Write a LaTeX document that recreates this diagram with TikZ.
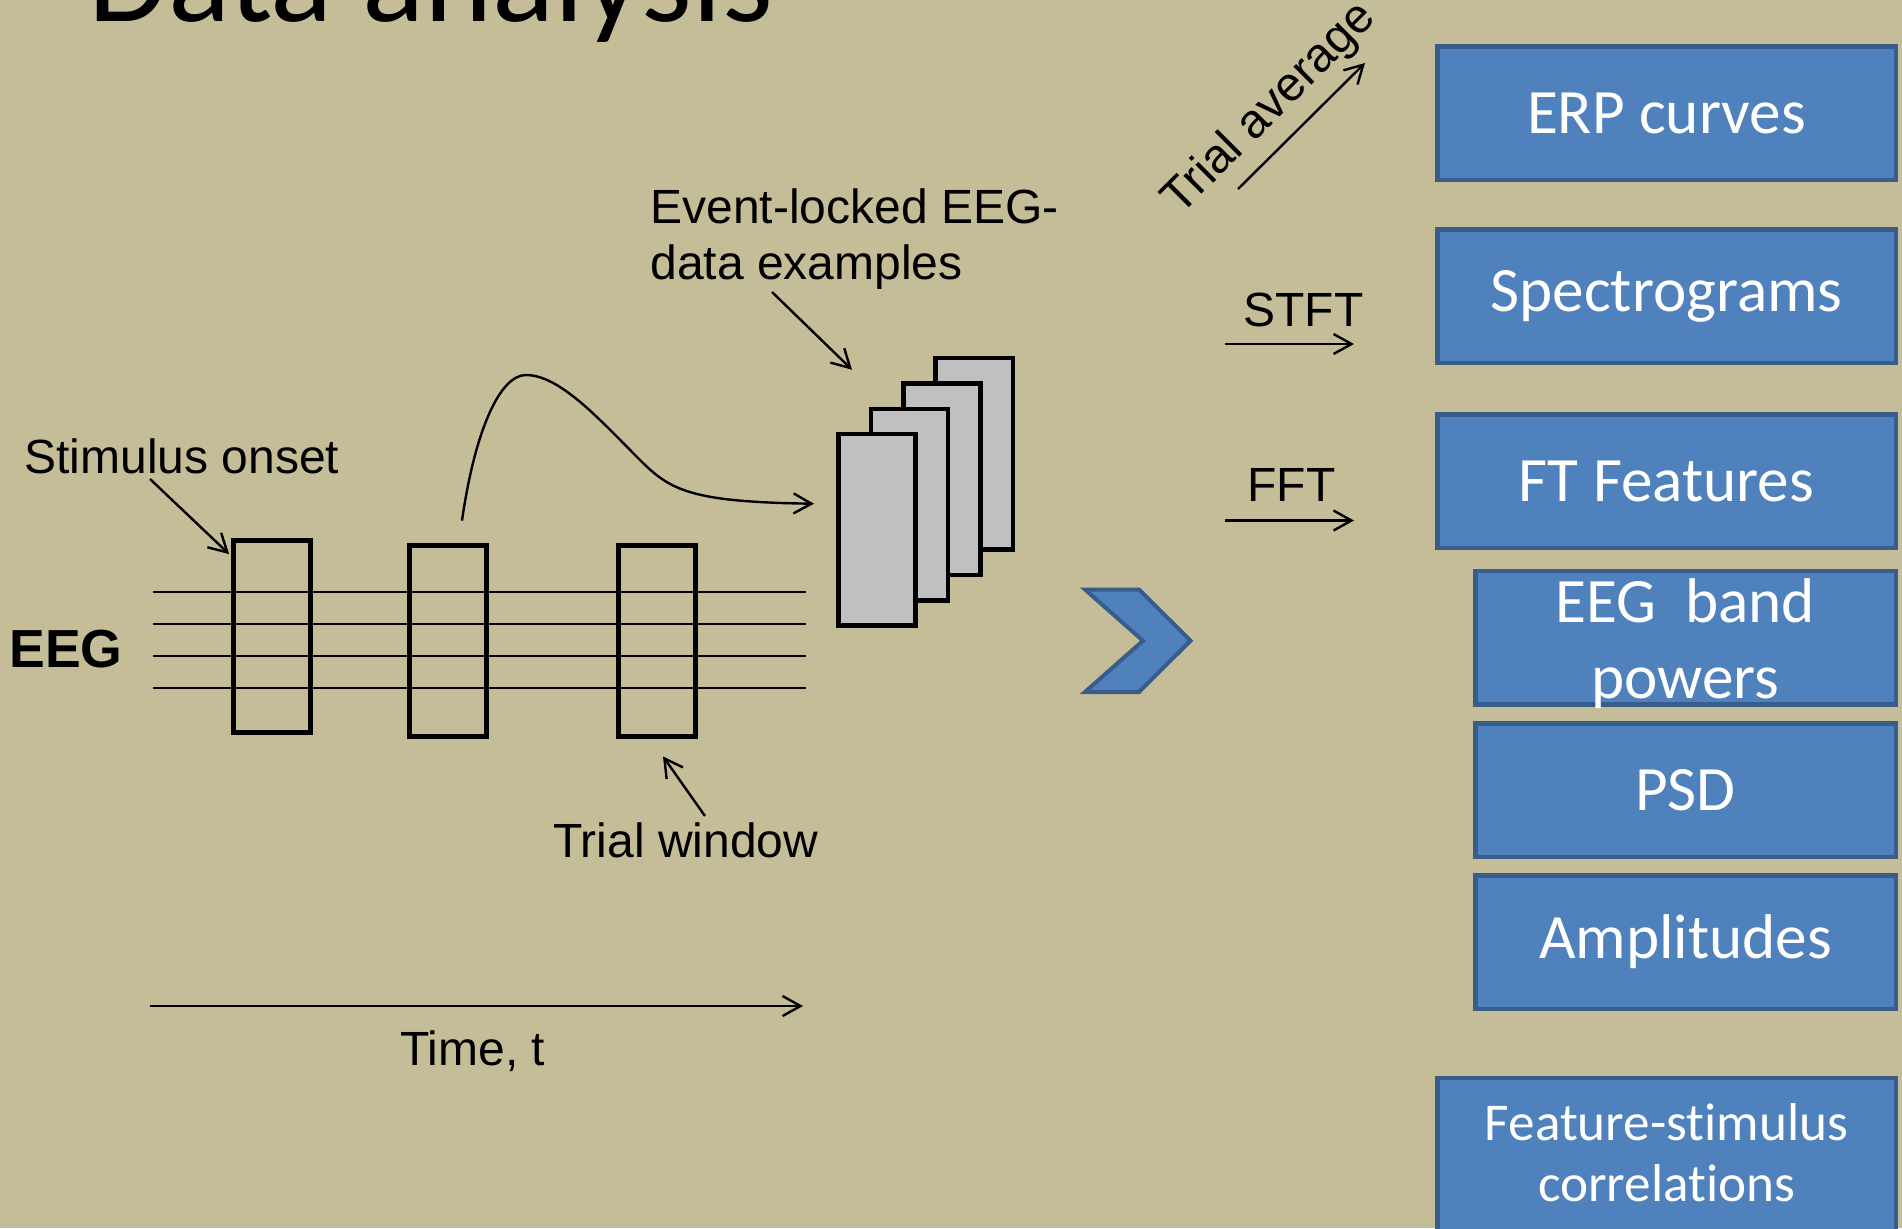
\documentclass[tikz,border=0pt]{standalone}
\usepackage{fontspec}
\setmainfont{Liberation Sans}
\newfontfamily\calfont[Ligatures={NoCommon,NoContextual}]{Carlito}
\usetikzlibrary{arrows.meta}
\definecolor{bgtan}{RGB}{196,189,151}
\definecolor{boxblue}{RGB}{79,129,189}
\definecolor{boxedge}{RGB}{56,93,138}
\definecolor{stackgrey}{RGB}{192,192,192}
\begin{document}
\begin{tikzpicture}[x=0.5pt,y=-0.5pt,
  lbl/.style={inner sep=0pt, font=\fontsize{24pt}{28pt}\selectfont},
  arr/.style={line width=1.2pt, -{Straight Barb[length=9pt,width=10pt]}},
  featbox/.style={draw=boxedge, fill=boxblue, line width=2.25pt, text=white, inner sep=0pt,
    minimum height=66.75pt, align=center, font=\calfont\fontsize{31.6pt}{38pt}\selectfont},
  widebox/.style={featbox, minimum width=229.25pt},
  narrowbox/.style={featbox, minimum width=210.25pt},
  boxtext/.style={text=white, inner sep=0pt, align=center},
  trialwin/.style={draw=black, line width=2.5pt, minimum width=38.6pt, minimum height=95.9pt, inner sep=0pt},
  stackbox/.style={draw=black, fill=stackgrey, line width=2.25pt, minimum width=38.55pt, minimum height=95.75pt, inner sep=0pt},
  eegline/.style={line width=1pt},
]
\fill[bgtan] (0,0) rectangle (1902,1228);
\useasboundingbox (0,0) rectangle (1902,1228);
\clip (0,0) rectangle (1902,1228);

% title
\node[anchor=base west, inner sep=0pt, font=\calfont\fontsize{64.8pt}{70pt}\selectfont] (title) at (88,21) {Data analysis};

% EEG lines
\foreach \yy in {592,624,656,688} \draw[eegline] (152.7,\yy) -- (805.7,\yy);

% trial windows
\node[trialwin] (r1) at (272.25,636.5) {};
\node[trialwin] (r2) at (448,641) {};
\node[trialwin] (r3) at (657,641) {};

% stack of examples
\node[stackbox] (s4) at (974.2,453.8) {};
\node[stackbox] (s3) at (941.8,479.2) {};
\node[stackbox] (s2) at (909.4,504.6) {};
\node[stackbox] (s1) at (876.8,529.7) {};

% labels
\node[lbl, anchor=base west, font=\bfseries\fontsize{26.8pt}{30pt}\selectfont] (eeg) at (9,667) {EEG};
\node[lbl, anchor=base west] (stim) at (24,473) {Stimulus onset};
\node[lbl, anchor=north west, align=left] (evt) at (650,188) {Event-locked EEG-\\data examples};
\node[lbl, anchor=base west] (tw) at (553,857) {Trial window};
\node[lbl, anchor=base west] (time) at (400,1065) {Time, t};
\node[lbl, anchor=base west] (stft) at (1243,326) {STFT};
\node[lbl, anchor=base west] (fft) at (1247,501) {FFT};
\node[lbl, rotate=45] (tavg) at (1270,109) {Trial average};

% connectors
\coordinate (stimtail) at (150,479);
\draw[arr] (stimtail) -- ([xshift=-1pt,yshift=-8pt]r1.north west);
\draw[arr] ([xshift=7pt,yshift=11pt]r2.north) .. controls (475,430) and (500,375) .. (526,375)
  .. controls (560,375) and (600,420) .. (640,460)
  .. controls (670,490) and (690,502) .. ([xshift=-11pt,yshift=13pt]s1.west);
\coordinate (evtail) at (772,292);
\draw[arr] (evtail) -- ([xshift=-12.4pt,yshift=31pt]s1.north);
\coordinate (twtail) at (705,816);
\draw[arr] (twtail) -- ([xshift=3pt,yshift=-8.5pt]r3.south);
\coordinate (t0) at (149.5,1006);
\coordinate (t1) at (803,1006);
\draw[arr] (t0) -- (t1);
\coordinate (ta0) at (1238,189);
\coordinate (ta1) at (1365,63);
\draw[arr] (ta0) -- (ta1);
\coordinate (st0) at (1225,344);
\coordinate (st1) at (1354,344);
\draw[arr] (st0) -- (st1);
\coordinate (ff0) at (1225,520.5);
\coordinate (ff1) at (1354,520.5);
\draw[arr] (ff0) -- (ff1);

% chevron
\draw[draw=boxedge, fill=boxblue, line width=2pt, line join=miter]
  (1085,589.5) -- (1139,589.5) -- (1190.5,640.7) -- (1139,692) -- (1085,692) -- (1143,640.7) -- cycle;

% feature boxes
\node[widebox] (erp) at (1666.5,113) {ERP curves};
\node[widebox] (spec) at (1666.5,296) {Spectrograms};
\node[widebox] (ftf) at (1666.5,481) {FT Features};
\node[narrowbox] (band) at (1685.5,637.5) {};
\node[boxtext, anchor=north, font=\calfont\fontsize{31.6pt}{38pt}\selectfont] (bandtxt) at (1685.5,578) {EEG\ \ band\\powers};
\node[narrowbox] (psd) at (1685.5,790) {PSD};
\node[narrowbox] (amp) at (1685.5,942) {Amplitudes};
\node[widebox, minimum height=84pt] (corr) at (1666.5,1161.75) {};
\node[boxtext, anchor=north, font=\calfont\fontsize{26.6pt}{30.75pt}\selectfont] (corrtxt) at (1666.5,1103) {Feature-stimulus\\correlations};
\end{tikzpicture}
\end{document}
